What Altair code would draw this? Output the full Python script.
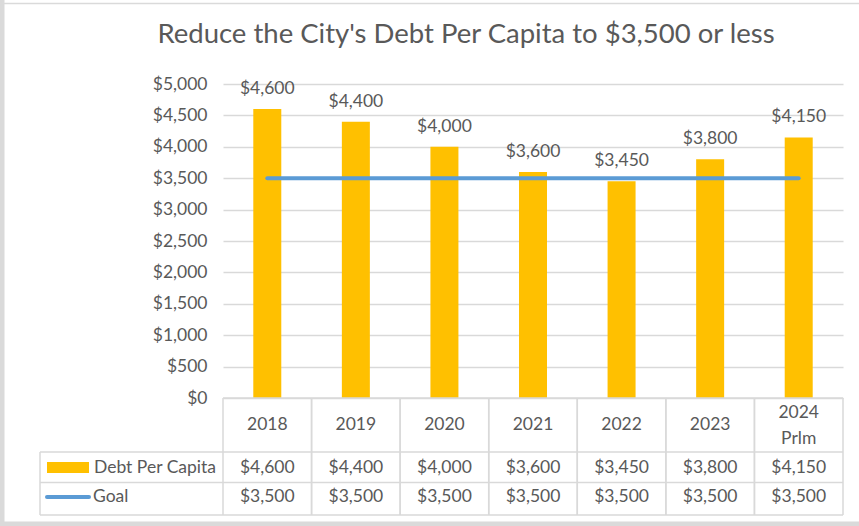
import altair as alt
import pandas as pd

years = ["2018", "2019", "2020", "2021", "2022", "2023", "2024 Prlm"]
debt = [4600, 4400, 4000, 3600, 3450, 3800, 4150]
goal = [3500, 3500, 3500, 3500, 3500, 3500, 3500]
y_ticks = [0, 500, 1000, 1500, 2000, 2500, 3000, 3500, 4000, 4500, 5000]
series_names = ["Debt Per Capita", "Goal"]
title_text = "Reduce the City's Debt Per Capita to $3,500 or less"

FONT = "Lato"
TXT = "#595959"
GRID = "#d9d9d9"
BAR = "#FFC000"
LINE = "#5B9BD5"
FS = 17.5

df = pd.DataFrame({"year": years, "debt": debt, "goal": goal})
one = pd.DataFrame({"k": [0]})

xenc = alt.X("year:N", sort=years, axis=None,
             scale=alt.Scale(paddingInner=0, paddingOuter=0))
yscale = alt.Scale(domain=[0, 5000], nice=False, zero=True)
yaxis = alt.Axis(values=y_ticks, format="$,.0f", domain=False, ticks=False, title=None,
                 labelOverlap=False, labelPadding=16, labelFontSize=FS, labelFont=FONT,
                 labelColor=TXT, gridColor=GRID, gridWidth=1.3)

base = alt.Chart(df)

bars = base.mark_bar(size=28, color=BAR).encode(
    x=xenc,
    y=alt.Y("debt:Q", scale=yscale, title=None, axis=yaxis),
)

bar_labels = base.mark_text(dy=-20, fontSize=FS, font=FONT, color=TXT, baseline="middle").encode(
    x=xenc, y=alt.Y("debt:Q", scale=yscale, title=None, axis=yaxis),
    text=alt.Text("debt:Q", format="$,.0f"),
)

goal_line = base.mark_line(color=LINE, strokeWidth=4, strokeCap="round").encode(
    x=xenc, y=alt.Y("goal:Q", scale=yscale, title=None, axis=yaxis),
)

# table vertical lines at band edges
vlines_l = base.mark_rule(color=GRID, strokeWidth=1.5).encode(
    x=alt.X("year:N", sort=years, axis=None, bandPosition=0,
            scale=alt.Scale(paddingInner=0, paddingOuter=0)),
    y=alt.value(314), y2=alt.value(431),
)
vlines_r = base.mark_rule(color=GRID, strokeWidth=1.5).encode(
    x=alt.X("year:N", sort=years, axis=None, bandPosition=1,
            scale=alt.Scale(paddingInner=0, paddingOuter=0)),
    y=alt.value(314), y2=alt.value(431),
)

hl = alt.Chart(one)
hlines = alt.layer(
    hl.mark_rule(color=GRID, strokeWidth=1.5).encode(x=alt.value(0), x2=alt.value(620), y=alt.value(314)),
    hl.mark_rule(color=GRID, strokeWidth=1.5).encode(x=alt.value(-183), x2=alt.value(620), y=alt.value(368)),
    hl.mark_rule(color=GRID, strokeWidth=1.5).encode(x=alt.value(-183), x2=alt.value(620), y=alt.value(398.5)),
    hl.mark_rule(color=GRID, strokeWidth=1.5).encode(x=alt.value(-183), x2=alt.value(620), y=alt.value(431)),
    hl.mark_rule(color=GRID, strokeWidth=1.5).encode(x=alt.value(-183), y=alt.value(368), y2=alt.value(431)),
)

header_single = base.transform_filter("indexof(datum.year, ' ') < 0").mark_text(
    fontSize=FS, font=FONT, color=TXT, baseline="middle").encode(
    x=xenc, y=alt.value(341), text="year:N",
)
header_multi = base.transform_filter("indexof(datum.year, ' ') >= 0").mark_text(
    fontSize=FS, font=FONT, color=TXT, lineBreak=" ", lineHeight=26, baseline="middle").encode(
    x=xenc, y=alt.value(329), text="year:N",
)

row_debt = base.mark_text(fontSize=FS, font=FONT, color=TXT, baseline="middle").encode(
    x=xenc, y=alt.value(384), text=alt.Text("debt:Q", format="$,.0f"),
)
row_goal = base.mark_text(fontSize=FS, font=FONT, color=TXT, baseline="middle").encode(
    x=xenc, y=alt.value(413), text=alt.Text("goal:Q", format="$,.0f"),
)

legend = alt.layer(
    hl.mark_rect(color=BAR).encode(x=alt.value(-176), x2=alt.value(-134), y=alt.value(378), y2=alt.value(389)),
    hl.mark_text(fontSize=FS, font=FONT, color=TXT, align="left", baseline="middle").encode(
        x=alt.value(-129), y=alt.value(384), text=alt.value(series_names[0])),
    hl.mark_rule(color=LINE, strokeWidth=4, strokeCap="round").encode(
        x=alt.value(-176), x2=alt.value(-134), y=alt.value(413)),
    hl.mark_text(fontSize=FS, font=FONT, color=TXT, align="left", baseline="middle").encode(
        x=alt.value(-130), y=alt.value(413), text=alt.value(series_names[1])),
)

title = hl.mark_text(fontSize=27.5, font=FONT, color=TXT, align="center", baseline="middle").encode(
    x=alt.value(243), y=alt.value(-49), text=alt.value(title_text))

frame = alt.layer(
    hl.mark_rule(color="#dadada", strokeWidth=5).encode(x=alt.value(-221), y=alt.value(-84), y2=alt.value(442)),
    hl.mark_rule(color="#dadada", strokeWidth=1.5).encode(x=alt.value(-223), x2=alt.value(636), y=alt.value(-80.5)),
    hl.mark_rule(color="#dadada", strokeWidth=5).encode(x=alt.value(-223), x2=alt.value(636), y=alt.value(440)),
)

chart = alt.layer(
    bars, goal_line, bar_labels, vlines_l, vlines_r, hlines, header_single, header_multi,
    row_debt, row_goal, legend, title, frame
).properties(
    width=620, height=314,
    background="white",
    autosize=alt.AutoSizeParams(type="none"),
    padding={"left": 223, "top": 84, "right": 16, "bottom": 128},
).configure_view(stroke=None)

chart.save("out.html", embed_options={"renderer": "svg", "actions": False})
